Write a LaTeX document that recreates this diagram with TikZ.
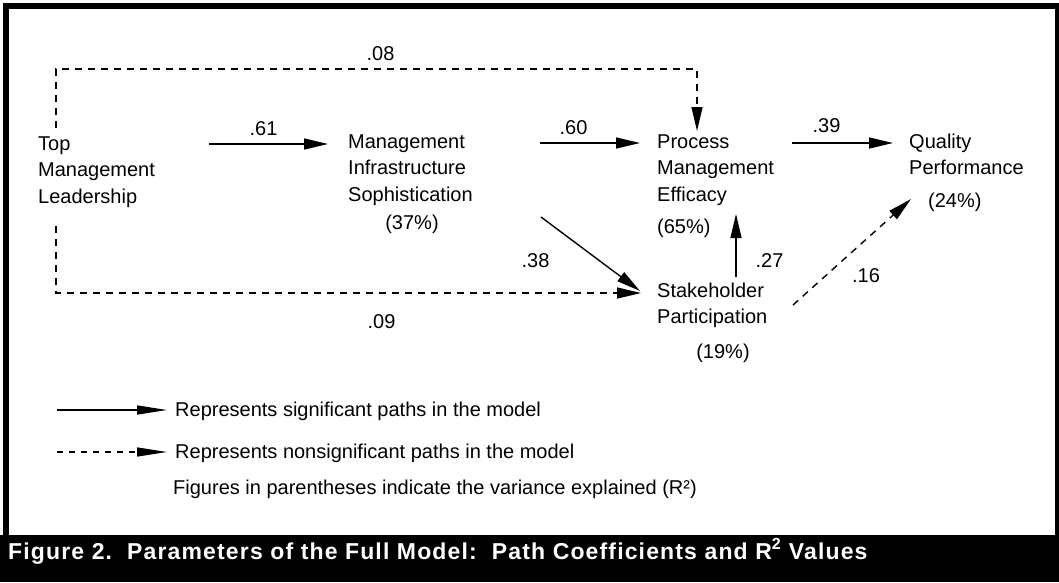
\documentclass[tikz,border=0pt]{standalone}
\usepackage{fontspec}
\setmainfont{Liberation Sans}
\newfontfamily\capfont{Liberation Sans}[LetterSpace=5]
\usetikzlibrary{arrows.meta}

\begin{document}
\begin{tikzpicture}[x=1pt,y=-1pt,
  txt/.style={font=\fontsize{20}{26.7}\selectfont, inner sep=0pt},
  concept/.style={txt, align=left, anchor=north west},
  coef/.style={txt, anchor=base},
  note/.style={txt, anchor=base west},
  sig/.style={line width=1.4pt, -{Triangle[length=24pt,width=11pt]}},
  nonsig/.style={sig, dash pattern=on 7pt off 6pt},
  keysig/.style={line width=1.4pt, -{Triangle[length=30pt,width=9pt]}},
  keynonsig/.style={keysig, dash pattern=on 6pt off 6pt},
]
% page and frame
\fill[white] (0,0) rectangle (1059,582);
\useasboundingbox (0,0) rectangle (1059,582);
\fill[black] (3,3) rectangle (1059,9);
\fill[black] (3,3) rectangle (9,536);
\fill[black] (1055,3) rectangle (1059,536);
\fill[black] (0,535) rectangle (1059,582);

% constructs (first baseline minus strut height 18.69)
\node[concept] (tml) at (38,131.3) {\strut Top\\Management\\Leadership};
\node[concept] (mis) at (348,129.3) {\strut Management\\Infrastructure\\Sophistication};
\node[txt, anchor=base] (mis-r2) at (412,229) {(37\%)};
\node[concept] (pme) at (657,129.3) {\strut Process\\Management\\Efficacy};
\node[txt, anchor=base west] (pme-r2) at (657,233) {(65\%)};
\node[concept] (sp) at (657,278.3) {\strut Stakeholder\\Participation};
\node[txt, anchor=base] (sp-r2) at (723,358) {(19\%)};
\node[concept] (qp) at (909,129.3) {\strut Quality\\Performance};
\node[txt, anchor=base west] (qp-r2) at (928,207) {(24\%)};

% connector end points
\coordinate (tml-e) at (209,144);
\coordinate (mis-w) at (328,144);
\coordinate (mis-e) at (540,143);
\coordinate (pme-w) at (640,143);
\coordinate (pme-e) at (792,143);
\coordinate (qp-w) at (893,143);
\coordinate (tml-n) at (56,128);
\coordinate (top-rail) at (697,69);
\coordinate (pme-n) at (697,131);
\coordinate (tml-s) at (56,226);
\coordinate (sp-w) at (641,293);
\coordinate (mis-se) at (541,217);
\coordinate (sp-nw) at (640,291);
\coordinate (sp-n) at (736,277);
\coordinate (pme-s) at (736,214);
\coordinate (sp-ne) at (793,305);
\coordinate (qp-sw) at (911,199);

% paths
\draw[sig] (tml-e) -- (mis-w);
\draw[sig] (mis-e) -- (pme-w);
\draw[sig] (pme-e) -- (qp-w);
\draw[nonsig] (tml-n) |- (top-rail) -- (pme-n);
\draw[nonsig] (tml-s) |- (sp-w);
\draw[sig] (mis-se) -- (sp-nw);
\draw[sig] (sp-n) -- (pme-s);
\draw[nonsig] (sp-ne) -- (qp-sw);

% path coefficients
\node[coef] (c08) at (380.5,60) {.08};
\node[coef] (c61) at (263.5,135) {.61};
\node[coef] (c60) at (573.5,134) {.60};
\node[coef] (c39) at (826.5,132) {.39};
\node[coef] (c38) at (535.5,267) {.38};
\node[coef] (c27) at (769.5,267) {.27};
\node[coef] (c16) at (866,282) {.16};
\node[coef] (c09) at (381.5,328) {.09};

% key
\coordinate (key1-a) at (57,410);
\coordinate (key1-b) at (167,410);
\coordinate (key2-a) at (57,452);
\coordinate (key2-b) at (167,452);
\draw[keysig] (key1-a) -- (key1-b);
\draw[keynonsig] (key2-a) -- (key2-b);
\node[note] (key1) at (175,416) {Represents significant paths in the model};
\node[note] (key2) at (175,458) {Represents nonsignificant paths in the model};
\node[note] (key3) at (173,494) {Figures in parentheses indicate the variance explained (R²)};

% caption bar text
\node[anchor=base west, inner sep=0pt, text=white,
      font=\capfont\bfseries\fontsize{23}{27}\selectfont] (caption) at (8,559)
  {Figure 2.\ \ Parameters of the Full Model:\ \ Path Coefficients and R\textsuperscript{2} Values};
\end{tikzpicture}
\end{document}
